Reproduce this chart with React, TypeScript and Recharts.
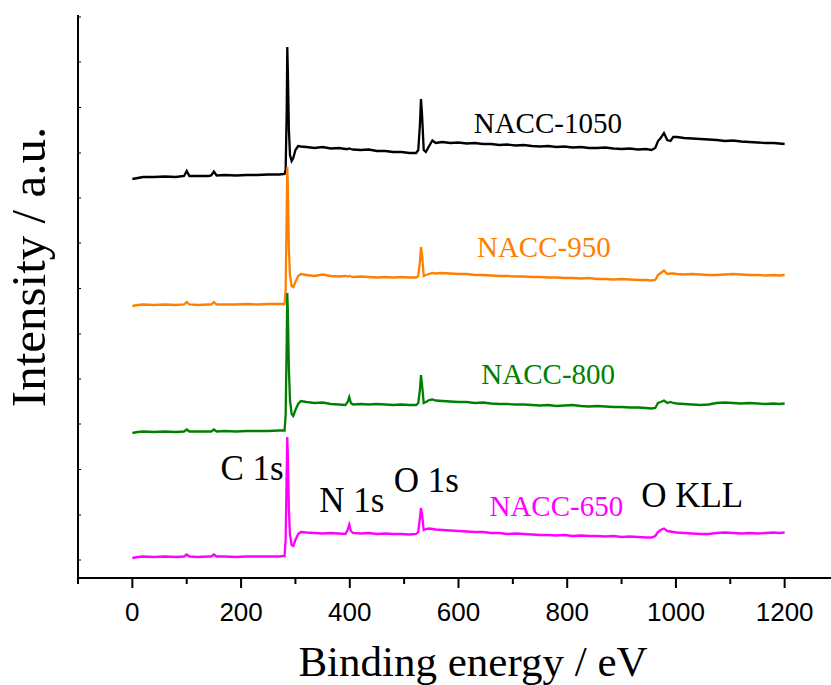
import React from 'react';
import { LineChart, Line, XAxis, YAxis, ReferenceDot } from 'recharts';

// binding energy grid (eV), shared by all four spectra
const energies = [
  0, 10, 20, 40, 60, 80, 95, 100, 105, 120, 140, 145, 150, 155, 170, 190, 210, 230, 250, 270, 280,
  282, 284, 285, 286, 288, 290, 293, 296, 300, 305, 310,
  320, 335, 350, 365, 380, 392, 396, 399, 402, 406, 420, 435, 450, 465, 480, 495, 510, 522,
  526, 529, 531, 533, 536, 540, 546, 552, 558,
  570, 585, 600, 615, 630, 645, 660, 675, 690, 705, 720, 735, 750, 765, 780, 795, 810, 825, 840, 855, 870, 885, 900, 915, 930, 945, 955,
  962, 967, 972, 978, 984, 990, 995, 1002,
  1015, 1030, 1045, 1060, 1075, 1090, 1105, 1120, 1135, 1150, 1165, 1180, 1190, 1200,
];

// intensities (a.u., already stacked with offsets)
const nacc1050 = [
  399, 400, 401, 401, 401.5, 401, 402, 407, 402, 402, 402, 402.5, 406.5, 402.5, 403, 402.5, 403, 403, 403.5, 403.5, 404,
  408, 468, 531, 508, 448, 423, 417, 420, 428, 432, 431.5,
  431, 430, 431, 429.5, 430, 429, 429, 429.5, 429, 428.5, 428, 428.5, 427, 427, 426, 426, 425, 425,
  428, 453, 479, 463, 428, 426, 432, 437.5, 435,
  436, 435, 435.5, 434.5, 435, 434, 434, 433, 433.5, 432.5, 433, 432, 431.5, 432, 431, 431.5, 430.5, 431, 430, 430, 430.5, 429.5, 429, 429.5, 428.5, 429, 428,
  430, 437, 440, 445, 438, 437, 441, 441,
  440, 439.5, 439, 438.5, 438, 437, 437.5, 436.5, 436, 435.5, 435, 435, 434.5, 434,
];

const nacc950 = [
  272, 273, 273.5, 273, 273.5, 273, 273.5, 276, 273.5, 273, 273.5, 273.5, 276, 273.5, 273.5, 273.5, 274, 273.5, 274, 274, 274,
  288, 368, 411, 393, 328, 303, 292, 291, 296, 302, 304,
  303, 302, 303.5, 302, 301.5, 302, 301.5, 302, 301.5, 301, 301.5, 301, 300.5, 301, 300.5, 301, 300.5, 300.5,
  302, 316, 331, 323, 302, 303, 304, 305, 304.5,
  305, 304.5, 304, 304, 303, 303, 302.5, 302, 302, 301.5, 301.5, 301, 301, 300.5, 300.5, 300, 300, 299.5, 300, 299, 299, 298.5, 299, 298.5, 298, 298, 297.5,
  298, 303, 305, 307.5, 304, 304.5, 304.5, 304,
  303.5, 304, 303.5, 303, 303, 303.5, 304, 303.5, 303, 303, 302.5, 303, 302.5, 303,
];

const nacc800 = [
  145, 146, 146.5, 146, 146.5, 146, 146.5, 148.5, 146.5, 146.5, 146.5, 146.5, 148.5, 146.5, 147, 146.5, 147, 147, 147, 147.5, 147.5,
  163, 238, 285, 268, 208, 178, 164, 162, 168, 174, 177,
  176, 175, 175.5, 174, 173.5, 173, 176, 181, 175, 173.5, 174, 173.5, 174, 173.5, 173, 173.5, 173, 173,
  175, 188, 203, 193, 175, 176, 178, 178.5, 177.5,
  177, 176.5, 176, 176, 175, 175.5, 174.5, 174, 174, 173.5, 173.5, 173, 172.5, 173, 172, 172.5, 173, 172, 171.5, 172, 171.5, 171, 171, 170.5, 170.5, 170, 169.5,
  170, 175, 176, 177.5, 175, 176, 175, 174.5,
  174, 173.5, 173, 173.5, 175, 175.5, 175, 174.5, 175, 174.5, 174, 174.5, 174, 174.5,
];

const nacc650 = [
  20, 21, 21.5, 21, 21.5, 21, 21.5, 23.5, 21.5, 21, 21.5, 21.5, 23.5, 21.5, 21.5, 21, 21.5, 21.5, 21.5, 21.5, 22,
  38, 108, 141, 123, 68, 43, 33, 32, 38, 44, 46,
  45.5, 45, 44.5, 45, 44.5, 44, 48, 53.5, 47, 45, 44.5, 45, 44, 44.5, 44, 44, 43.5, 44,
  46, 60, 70, 63, 48, 49, 49.5, 49, 48.5,
  48, 47.5, 47, 46.5, 46, 46, 45, 45, 44, 44.5, 44, 43.5, 43, 43, 42.5, 43, 42, 42.5, 42, 42, 41.5, 42, 41, 41.5, 41, 40.5, 40.5,
  42, 46, 48, 49.5, 47, 46.5, 46, 45.5,
  45, 44.5, 44, 44, 45, 45.5, 45, 44.5, 45, 44.5, 45, 45.5, 45, 45.5,
];

const energyTicks = [-100, 0, 100, 200, 300, 400, 500, 600, 700, 800, 900, 1000, 1100, 1200, 1300];
const majorTicks = [0, 200, 400, 600, 800, 1000, 1200];
const intensityTicks = [18, 63, 108.5, 154, 199, 244, 289.5, 335, 380, 425, 470.5, 516, 561];
const topTicks = [1, 2, 3, 4, 5, 6, 7, 8, 9];

const series = [
  { name: 'NACC-1050', values: nacc1050, color: '#000000' },
  { name: 'NACC-950', values: nacc950, color: '#FF8000' },
  { name: 'NACC-800', values: nacc800, color: '#008000' },
  { name: 'NACC-650', values: nacc650, color: '#FF00FF' },
];

// text labels: [text, energy, intensity, colour]
const annotations: Array<[string, number, number, string]> = [
  ['NACC-1050', 628, 445, '#000000'],
  ['NACC-950', 634, 321, '#FF8000'],
  ['NACC-800', 642, 194, '#008000'],
  ['NACC-650', 657, 62, '#FF00FF'],
  ['C 1s', 162, 98, '#000000'],
  ['N 1s', 344, 66, '#000000'],
  ['O 1s', 481, 86, '#000000'],
  ['O KLL', 936, 71, '#000000'],
];

const serif = '"Liberation Serif", "Times New Roman", serif';
const sans = '"Liberation Sans", Arial, sans-serif';

const EnergyTick = (props: any) => {
  const { x, y, payload } = props;
  const major = majorTicks.includes(payload.value);
  return (
    <g>
      <line x1={x} y1={y} x2={x} y2={y + (major ? 10 : 6)} stroke="#000" strokeWidth={2} />
      {major && (
        <text x={x} y={y + 43} textAnchor="middle" fontFamily={sans} fontSize={26} fill="#000">
          {payload.value}
        </text>
      )}
    </g>
  );
};

export default function App() {
  const lines = series.map((s) => ({
    ...s,
    data: energies.map((e, i) => ({ e, v: s.values[i] })),
  }));

  return (
    <div
      style={{
        position: 'fixed',
        top: 0,
        left: 0,
        width: 831,
        height: 685,
        overflow: 'hidden',
        background: '#fff',
      }}
    >
      <LineChart width={845} height={685} margin={{ top: 15, right: 6, bottom: 0, left: 0 }}>
        <XAxis
          xAxisId="top"
          orientation="top"
          type="number"
          domain={[0, 10]}
          ticks={topTicks}
          height={0}
          tickSize={2}
          tick={false}
          axisLine={{ stroke: '#000', strokeWidth: 2 }}
          tickLine={{ stroke: '#000', strokeWidth: 1 }}
        />
        <XAxis
          dataKey="e"
          type="number"
          domain={[-100, 1300]}
          ticks={energyTicks}
          interval={0}
          height={107}
          tickSize={0}
          tickMargin={0}
          tickLine={false}
          tick={<EnergyTick />}
          axisLine={{ stroke: '#000', strokeWidth: 2 }}
          label={() => (
            <text x={473} y={676} textAnchor="middle" fontFamily={serif} fontSize={43} fill="#000">
              Binding energy / eV
            </text>
          )}
        />
        <YAxis
          type="number"
          domain={[0, 563]}
          ticks={intensityTicks}
          interval={0}
          width={78}
          tickSize={-3}
          tickFormatter={() => ''}
          axisLine={{ stroke: '#000', strokeWidth: 2 }}
          tickLine={{ stroke: '#000', strokeWidth: 1 }}
          label={() => (
            <text
              x={45}
              y={267}
              transform="rotate(-90, 45, 267)"
              textAnchor="middle"
              fontFamily={serif}
              fontSize={49}
              fill="#000"
            >
              Intensity / a.u.
            </text>
          )}
        />
        {lines.map((s) => (
          <Line
            key={s.name}
            data={s.data}
            dataKey="v"
            type="linear"
            stroke={s.color}
            strokeWidth={2.3}
            dot={false}
            isAnimationActive={false}
          />
        ))}
        {annotations.map(([text, e, v, color]) => (
          <ReferenceDot
            key={text}
            x={e}
            y={v}
            r={0}
            fill="none"
            stroke="none"
            label={(p: any) => (
              <text x={p.viewBox.x} y={p.viewBox.y} fontFamily={serif} fontSize={text.startsWith('NACC') ? 29 : 35} fill={color}>
                {text}
              </text>
            )}
          />
        ))}
      </LineChart>
    </div>
  );
}
